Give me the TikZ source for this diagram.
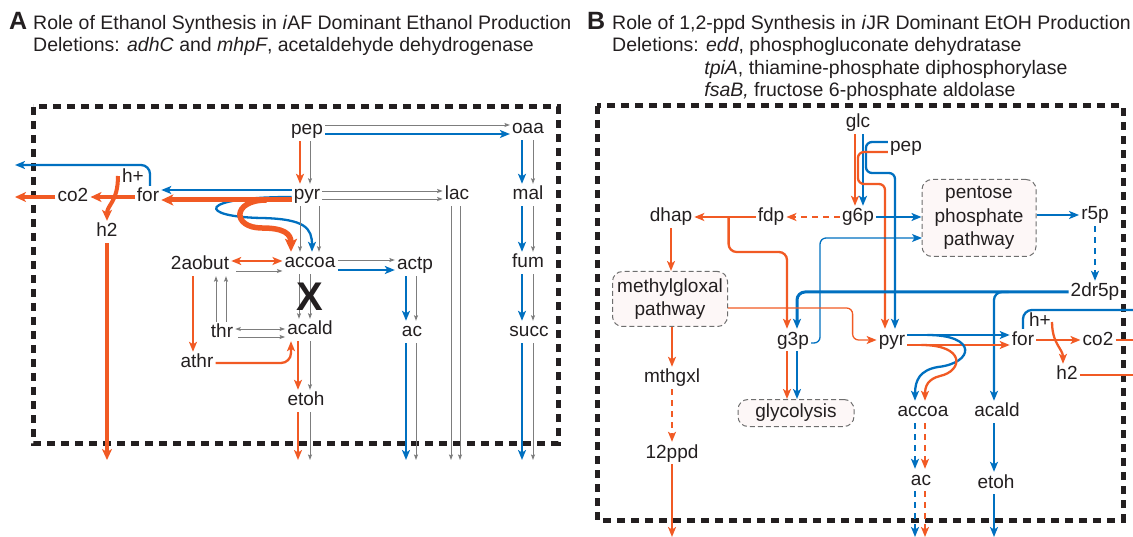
\documentclass[tikz,border=0pt]{standalone}
\usepackage{fontspec}
\setmainfont{Liberation Sans}
\usetikzlibrary{arrows.meta,calc}
\definecolor{cor}{RGB}{241,90,36}
\definecolor{cbl}{RGB}{0,112,192}
\definecolor{cgr}{RGB}{125,125,125}
\definecolor{txt}{RGB}{35,31,32}
\definecolor{boxfill}{RGB}{253,247,247}
\definecolor{boxline}{RGB}{110,110,110}
\tikzset{
 lbl/.style={font=\fontsize{19}{23.5}\selectfont, text=txt, inner sep=2pt, text height=14pt, text depth=4pt},
 pbox/.style={draw=boxline, line width=1pt, dash pattern=on 5pt off 3pt, rounded corners=10pt, fill=boxfill, align=center, font=\fontsize{19}{23.5}\selectfont, text=txt, inner sep=0pt},
 ttl/.style={font=\fontsize{19.5}{23}\selectfont, text=txt, inner sep=0pt, anchor=base west},
 big/.style={font=\fontsize{25}{25}\selectfont\bfseries, text=txt, inner sep=0pt, anchor=base west},
 OA/.style={draw=cor, line width=2.3pt, -{Stealth[length=10pt,width=8pt,inset=2.5pt]}},
 BA/.style={draw=cbl, line width=2.3pt, -{Stealth[length=10pt,width=8pt,inset=2.5pt]}},
 OL/.style={draw=cor, line width=2.3pt},
 BL/.style={draw=cbl, line width=2.3pt},
 OAA/.style={draw=cor, line width=2.3pt, {Stealth[length=10pt,width=8pt,inset=2.5pt]}-{Stealth[length=10pt,width=8pt,inset=2.5pt]}},
 GA/.style={draw=cgr, line width=0.9pt, -{Stealth[length=5.5pt,width=4pt,inset=1pt]}},
 GAA/.style={draw=cgr, line width=0.9pt, {Stealth[length=5.5pt,width=4pt,inset=1pt]}-{Stealth[length=5.5pt,width=4pt,inset=1pt]}},
 dsh/.style={dash pattern=on 6pt off 5pt},
 frame/.style={draw=txt, line width=5pt, dash pattern=on 8pt off 6pt},
}
\begin{document}
\begin{tikzpicture}[x=1pt,y=-1pt]
\useasboundingbox (0,0) rectangle (1133,537);
% ---------- titles
\node[big] (labA) at (9,30) {A};
\node[ttl] (tA1) at (33,30) {Role of Ethanol Synthesis in \textit{i}AF Dominant Ethanol Production};
\node[ttl] (tA2) at (33,52) {Deletions: \textit{adhC} and \textit{mhpF}, acetaldehyde dehydrogenase};
\node[big] (labB) at (587,30) {B};
\node[ttl] (tB1) at (612,30) {Role of 1,2-ppd Synthesis in \textit{i}JR Dominant EtOH Production};
\node[ttl] (tB2) at (612,52) {Deletions: \textit{edd}, phosphogluconate dehydratase};
\node[ttl] (tB3) at (612,74.5) {\phantom{Deletions:}\ \textit{tpiA}, thiamine-phosphate diphosphorylase};
\node[ttl] (tB4) at (612,97) {\phantom{Deletions:}\ \textit{fsaB,} fructose 6-phosphate aldolase};
% ---------- frames
\draw[frame] (33,107) rectangle (558,443);
\draw[frame] (597,106) rectangle (1123,520);
% ================= PANEL A
\node[lbl] (pepA) at (307,130) {pep};
\node[lbl] (oaaA) at (528,129) {oaa};
\node[lbl] (pyrA) at (307,195) {pyr};
\node[lbl] (lacA) at (457,195) {lac};
\node[lbl] (malA) at (528,195) {mal};
\node[lbl] (accoaA) at (310,263) {accoa};
\node[lbl] (actpA) at (415,265) {actp};
\node[lbl] (fumA) at (528,263) {fum};
\node[lbl] (aobutA) at (200,265) {2aobut};
\node[lbl] (thrA) at (222,333) {thr};
\node[lbl] (acaldA) at (310,330) {acald};
\node[lbl] (acA) at (412,332) {ac};
\node[lbl] (succA) at (529,332) {succ};
\node[lbl] (athrA) at (197,363) {athr};
\node[lbl] (etohA) at (306,401) {etoh};
\node[lbl] (forA) at (148,197) {for};
\node[lbl] (co2A) at (73,197) {co2};
\node[lbl] (hpA) at (133,178) {h+};
\node[lbl] (h2A) at (107,232) {h2};
\coordinate (botA) at (0,460);
\coordinate (leftA) at (15,0);
\coordinate (outA1) at (15,165);
% loops
\draw[BA] ($(pyrA.west)+(0,2)$) .. controls (195,197) and (198,217) .. (262,218) .. controls (305,219) and (312,228) .. ($(accoaA.north)+(2,0)$);
\draw[OA, line width=5.5pt, -{Stealth[length=13pt,width=12pt,inset=3pt]}] ($(pyrA.west)+(-25,5)$) .. controls +(-35,0) and +(-30,0) .. (262,228) .. controls +(22,0) and +(0,-18) .. ($(accoaA.north)+(-19,0)$);
% pep
\draw[GA] ($(pepA.east)+(0,-5)$) -- ($(pepA.east -| oaaA.west)+(0,-5)$);
\draw[BA] ($(pepA.east)+(0,4)$) -- ($(pepA.east -| oaaA.west)+(0,4)$);
\draw[OA] ($(pepA.south)+(-7,0)$) -- ($(pepA.south |- pyrA.north)+(-7,0)$);
\draw[GA] ($(pepA.south)+(3,0)$) -- ($(pepA.south |- pyrA.north)+(3,0)$);
% pyr
\draw[GA] ($(pyrA.east)+(0,-4)$) -- ($(pyrA.east -| lacA.west)+(0,-4)$);
\draw[GA] ($(pyrA.east)+(0,4)$) -- ($(pyrA.east -| lacA.west)+(0,4)$);
\draw[GA] ($(lacA.south)+(-6,0)$) -- ($(lacA.south |- botA)+(-6,0)$);
\draw[GA] ($(lacA.south)+(3,0)$) -- ($(lacA.south |- botA)+(3,0)$);
\draw[GA] ($(pyrA.south)+(-7,0)$) -- ($(pyrA.south |- accoaA.north)+(-7,0)$);
\draw[GA] ($(pyrA.south)+(12,0)$) -- ($(pyrA.south |- accoaA.north)+(12,0)$);
\draw[BA] ($(pyrA.west)+(0,-5)$) -- ($(pyrA.west -| forA.east)+(0,-5)$);
\draw[OA, line width=5pt, -{Stealth[length=12pt,width=11pt,inset=3pt]}] ($(pyrA.west)+(0,5)$) -- ($(pyrA.west -| forA.east)+(0,5)$);
% TCA branch
\draw[BA] ($(oaaA.south)+(-6,0)$) -- ($(oaaA.south |- malA.north)+(-6,0)$);
\draw[GA] ($(oaaA.south)+(5,0)$) -- ($(oaaA.south |- malA.north)+(5,0)$);
\draw[BA] ($(malA.south)+(-6,0)$) -- ($(malA.south |- fumA.north)+(-6,0)$);
\draw[GA] ($(malA.south)+(5,0)$) -- ($(malA.south |- fumA.north)+(5,0)$);
\draw[BA] ($(malA.south |- fumA.south)+(-6,0)$) -- ($(malA.south |- succA.north)+(-6,0)$);
\draw[GA] ($(malA.south |- fumA.south)+(5,0)$) -- ($(malA.south |- succA.north)+(5,0)$);
\draw[BA] ($(malA.south |- succA.south)+(-6,0)$) -- ($(malA.south |- botA)+(-6,0)$);
\draw[GA] ($(malA.south |- succA.south)+(5,0)$) -- ($(malA.south |- botA)+(5,0)$);
% accoa -> actp -> ac
\draw[GA] ($(accoaA.east)+(0,-3)$) -- ($(accoaA.east -| actpA.west)+(0,-3)$);
\draw[BA] ($(accoaA.east)+(0,7)$) -- ($(accoaA.east -| actpA.west)+(0,7)$);
\draw[BA] ($(actpA.south)+(-9,0)$) -- ($(actpA.south |- acA.north)+(-9,0)$);
\draw[GA] ($(actpA.south)+(1,0)$) -- ($(actpA.south |- acA.north)+(1,0)$);
\draw[BA] ($(actpA.south |- acA.south)+(-9,0)$) -- ($(actpA.south |- botA)+(-9,0)$);
\draw[GA] ($(actpA.south |- acA.south)+(1,0)$) -- ($(actpA.south |- botA)+(1,0)$);
% 2aobut / thr / athr
\draw[OAA] ($(aobutA.east)+(0,-4)$) -- ($(aobutA.east -| accoaA.west)+(0,-4)$);
\draw[GA] ($(aobutA.east)+(5,6)$) -- ($(aobutA.east -| accoaA.west)+(0,6)$);
\draw[GA] ($(thrA.north)+(-6,0)$) -- ($(thrA.north |- aobutA.south)+(-6,0)$);
\draw[GA] ($(thrA.north)+(4,0)$) -- ($(thrA.north |- aobutA.south)+(4,0)$);
\draw[GAA] ($(thrA.east)+(0,-4)$) -- ($(thrA.east -| acaldA.west)+(0,-4)$);
\draw[GA] ($(thrA.east)+(3,4)$) -- ($(thrA.east -| acaldA.west)+(0,4)$);
\draw[OA] ($(aobutA.south)+(-7,0)$) -- ($(aobutA.south |- athrA.north)+(-7,0)$);
\draw[OA, rounded corners=10pt] (athrA.east) -| ($(acaldA.south)+(-19,0)$);
% accoa -> acald -> etoh
\draw[GA] ($(accoaA.south)+(-11,0)$) -- ($(accoaA.south |- acaldA.north)+(-11,0)$);
\draw[GA] ($(accoaA.south)+(0,0)$) -- ($(accoaA.south |- acaldA.north)+(0,0)$);
\node[font=\fontsize{40}{40}\selectfont\bfseries, text=txt, inner sep=0pt] (xA) at (310,297) {X};
\draw[OA] ($(acaldA.south)+(-12,0)$) -- ($(acaldA.south |- etohA.north)+(-12,0)$);
\draw[GA] ($(acaldA.south)+(0,0)$) -- ($(acaldA.south |- etohA.north)+(0,0)$);
\draw[OA] ($(acaldA.south |- etohA.south)+(-12,0)$) -- ($(acaldA.south |- botA)+(-12,0)$);
\draw[GA] ($(acaldA.south |- etohA.south)+(0,0)$) -- ($(acaldA.south |- botA)+(0,0)$);
% for / co2 / h2
\draw[OA, line width=4pt, -{Stealth[length=11pt,width=10pt,inset=3pt]}] (forA.west) -- (co2A.east);
\draw[OA, line width=4pt, -{Stealth[length=11pt,width=10pt,inset=3pt]}] (co2A.west) -- (co2A.west -| leftA);
\draw[OA, line width=4pt, -{Stealth[length=11pt,width=10pt,inset=3pt]}] ($(hpA.west)+(-2,-2)$) .. controls +(0,26) and +(0,-16) .. (h2A.north);
\draw[OA, line width=3.5pt, -{Stealth[length=11pt,width=10pt,inset=3pt]}] (h2A.south) -- (h2A.south |- botA);
\draw[BA, rounded corners=9pt] ($(forA.north)+(2,0)$) |- (outA1);
% ================= PANEL B
\node[lbl] (glcB) at (858,123) {glc};
\node[lbl] (pepB) at (906,147) {pep};
\node[lbl] (g6pB) at (858,217) {g6p};
\node[lbl] (fdpB) at (771,217) {fdp};
\node[lbl] (dhapB) at (671,217) {dhap};
\node[pbox, minimum width=114pt, minimum height=77pt] (pppB) at (979,218) {pentose\\phosphate\\pathway};
\node[lbl] (r5pB) at (1095,215) {r5p};
\node[lbl] (dr5pB) at (1095,292) {2dr5p};
\node[pbox, minimum width=115pt, minimum height=55pt] (mgpB) at (670,299) {methylgloxal\\pathway};
\node[lbl] (mthgxlB) at (672,378) {mthgxl};
\node[lbl] (ppdB) at (672,453) {12ppd};
\node[lbl] (g3pB) at (793,340) {g3p};
\node[pbox, minimum width=116pt, minimum height=27pt] (glyB) at (796,413) {glycolysis};
\node[lbl] (pyrB) at (892,340) {pyr};
\node[lbl] (forB) at (1023,340) {for};
\node[lbl] (hpB) at (1040,322) {h+};
\node[lbl] (co2B) at (1098,340) {co2};
\node[lbl] (h2B) at (1067,375) {h2};
\node[lbl] (accoaB) at (923,412) {accoa};
\node[lbl] (acaldB) at (997,412) {acald};
\node[lbl] (acB) at (921,480) {ac};
\node[lbl] (etohB) at (996,483) {etoh};
\coordinate (botB) at (0,537);
\coordinate (rightB) at (1133,0);
\coordinate (outB1) at (1133,310);
\coordinate (pppin) at (922,238);
\begin{scope}[line width=2.5pt]
% glc / pep
\draw[OA] ($(glcB.south)+(-3,0)$) -- ($(glcB.south |- g6pB.north)+(-3,0)$);
\draw[BA] ($(glcB.south)+(5,0)$) -- ($(glcB.south |- g6pB.north)+(5,0)$);
\draw[BA, rounded corners=6pt] ($(pepB.west)+(0,-5)$) -- ++(-22,0) -- ++(0,31) -| ($(pyrB.north)+(3,0)$);
\draw[OA, rounded corners=6pt] ($(pepB.west)+(0,5)$) -- ++(-30,0) -- ++(0,32) -| ($(pyrB.north)+(-7,0)$);
% upper glycolysis
\draw[OA, dsh] (g6pB.west) -- (fdpB.east);
\draw[OA] (fdpB.west) -- (dhapB.east);
\draw[OA, rounded corners=8pt] ($(fdpB.west)+(-27,0)$) -- ++(0,35) -| ($(g3pB.north)+(-6,0)$);
\draw[BA] (g6pB.east) -- (g6pB.east -| pppB.west);
\draw[BA] (pppB.east |- r5pB.west) -- (r5pB.west);
\draw[BA, dsh] (r5pB.south) -- (r5pB.south |- dr5pB.north);
\draw[BA, line width=3pt, rounded corners=8pt] (dr5pB.west) -| ($(g3pB.north)+(4,0)$);
\draw[BA, rounded corners=8pt] ($(dr5pB.west)+(-60,0)$) -| ($(acaldB.north)+(-3,0)$);
\draw[BA, line width=1.3pt, rounded corners=6pt] ($(g3pB.east)+(0,3)$) -- ++(9,0) |- (pppin);
% methylglyoxal branch
\draw[OA] (dhapB.south) -- (dhapB.south |- mgpB.north);
\draw[OA] (mgpB.south -| mthgxlB.north) -- (mthgxlB.north);
\draw[OA, dsh] (mthgxlB.south) -- (ppdB.north);
\draw[OA] (ppdB.south) -- (ppdB.south |- botB);
\draw[OA, line width=1.3pt, rounded corners=6pt] ($(mgpB.east)+(0,9)$) -| ($(pyrB.west)+(-24,0)$) -- (pyrB.west);
% g3p -> glycolysis
\draw[OA] ($(g3pB.south)+(-6,0)$) -- ($(g3pB.south |- glyB.north)+(-6,0)$);
\draw[BA] ($(g3pB.south)+(4,0)$) -- ($(g3pB.south |- glyB.north)+(4,0)$);
% pyr
\draw[BA] ($(pyrB.east)+(0,-5)$) -- ($(pyrB.east -| forB.west)+(0,-5)$);
\draw[OA] ($(pyrB.east)+(0,5)$) -- ($(pyrB.east -| forB.west)+(0,5)$);
\draw[BA] ($(pyrB.east)+(20,-5)$) .. controls (978,335) and (974,363) .. (938,367) .. controls (920,370) and (915,380) .. ($(accoaB.north)+(-8,0)$);
\draw[OA] ($(pyrB.east)+(14,5)$) .. controls (966,345) and (963,371) .. (940,376) .. controls (928,379) and (925,386) .. ($(accoaB.north)+(2,0)$);
\draw[BA, dsh] ($(accoaB.south)+(-8,0)$) -- ($(accoaB.south |- acB.north)+(-8,0)$);
\draw[OA, dsh] ($(accoaB.south)+(2,0)$) -- ($(accoaB.south |- acB.north)+(2,0)$);
\draw[BA, dsh] ($(accoaB.south |- acB.south)+(-8,0)$) -- ($(accoaB.south |- botB)+(-8,0)$);
\draw[OA, dsh] ($(accoaB.south |- acB.south)+(2,0)$) -- ($(accoaB.south |- botB)+(2,0)$);
\draw[BA] ($(acaldB.south)+(-3,0)$) -- ($(acaldB.south |- etohB.north)+(-3,0)$);
\draw[BA] ($(acaldB.south |- etohB.south)+(-3,0)$) -- ($(acaldB.south |- botB)+(-3,0)$);
% for / co2 / h2
\draw[OA] (forB.east) -- (co2B.west);
\draw[OA] ($(hpB.east)+(-1,0)$) .. controls +(0,22) and +(0,-15) .. ($(h2B.north)+(-4,0)$);
\draw[OL] (co2B.east) -- (co2B.east -| rightB);
\draw[OL] (h2B.east) -- (h2B.east -| rightB);
\draw[BL, rounded corners=9pt] (forB.north) |- (outB1);
\end{scope}
\end{tikzpicture}
\end{document}
